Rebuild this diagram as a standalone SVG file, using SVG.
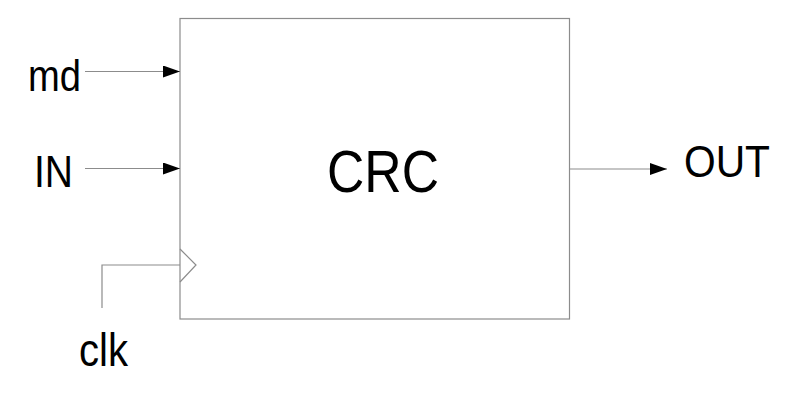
<svg xmlns="http://www.w3.org/2000/svg" width="793" height="411" viewBox="0 0 793 411">
<style>
.ln{stroke:#8c8c8c;stroke-width:1.2;fill:none}
.t{font-family:"Liberation Sans",Arial,sans-serif;fill:#000}
</style>
<defs>
<marker id="ah" markerWidth="18" markerHeight="12" refX="17" refY="6" orient="auto" markerUnits="userSpaceOnUse">
<path d="M0,0 L17,6 L0,12 Z" fill="#000"/>
</marker>
</defs>
<rect width="793" height="411" fill="#fff"/>
<g id="crc">
<rect x="180" y="18.5" width="389.5" height="300.5" class="ln"/>
<text class="t" x="327" y="192" font-size="60" textLength="112" lengthAdjust="spacingAndGlyphs">CRC</text>
</g>
<g id="md"><text class="t" x="28" y="91" font-size="44" textLength="53" lengthAdjust="spacingAndGlyphs">md</text></g>
<g id="in"><text class="t" x="34" y="187" font-size="44" textLength="39" lengthAdjust="spacingAndGlyphs">IN</text></g>
<g id="out"><text class="t" x="684" y="177" font-size="44" textLength="86" lengthAdjust="spacingAndGlyphs">OUT</text></g>
<g id="clk"><text class="t" x="79" y="366" font-size="46" textLength="49" lengthAdjust="spacingAndGlyphs">clk</text></g>
<g id="connectors">
<line x1="85" y1="71.5" x2="180" y2="71.5" class="ln" marker-end="url(#ah)"/>
<line x1="85" y1="168.5" x2="180" y2="168.5" class="ln" marker-end="url(#ah)"/>
<line x1="569.5" y1="169" x2="667" y2="169" class="ln" marker-end="url(#ah)"/>
<polyline points="102,308 102,265 180,265" class="ln"/>
<polyline points="180,249 196,265 180,282" class="ln"/>
</g>
</svg>
